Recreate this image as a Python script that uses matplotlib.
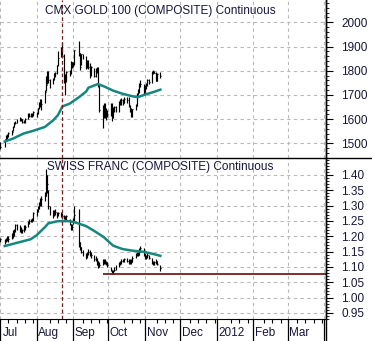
import numpy as np
import pandas as pd
import matplotlib
matplotlib.use("Agg")
import matplotlib.pyplot as plt
import matplotlib.dates as mdates
import matplotlib.transforms as mtransforms
from matplotlib.lines import Line2D

# ---------------- data ----------------
trade_dates = [d for d in pd.bdate_range("2011-07-01", "2011-11-14")
               if d not in (pd.Timestamp("2011-07-04"), pd.Timestamp("2011-09-05"))]

gold_close = [1486, 1513, 1530, 1530, 1543, 1549, 1567, 1586, 1586, 1594, 1603, 1600, 1588, 1588, 1602, 1619, 1615, 1616, 1616, 1628,
              1624, 1645, 1667, 1658, 1663, 1713, 1743, 1795, 1763, 1747, 1766, 1789, 1792, 1822, 1852, 1892, 1862, 1757, 1771, 1794, 1791, 1836, 1827,
              1829, 1884, 1873, 1817, 1868, 1856, 1815, 1840, 1817, 1785, 1814, 1779, 1806, 1808, 1741, 1639, 1628, 1652, 1616, 1617, 1620,
              1659, 1624, 1642, 1651, 1635, 1670, 1663, 1680, 1667, 1682, 1678, 1653, 1641, 1618, 1642, 1656, 1703, 1721, 1745, 1747, 1714,
              1731, 1746, 1763, 1755, 1795, 1795, 1792, 1758, 1788, 1779]
gold_high = [1505, 1518, 1533, 1538, 1546, 1555, 1570, 1590, 1594, 1600, 1610, 1606, 1603, 1598, 1605, 1625, 1624, 1626, 1627, 1633,
             1630, 1648, 1673, 1682, 1684, 1720, 1780, 1800, 1800, 1767, 1770, 1792, 1796, 1825, 1880, 1898, 1917, 1870, 1785, 1800, 1804, 1839, 1837,
             1836, 1885, 1923, 1875, 1870, 1871, 1859, 1845, 1845, 1834, 1818, 1813, 1810, 1817, 1814, 1745, 1660, 1669, 1669, 1648, 1640,
             1666, 1668, 1650, 1654, 1654, 1675, 1684, 1688, 1685, 1690, 1692, 1690, 1658, 1647, 1644, 1662, 1708, 1724, 1750, 1760, 1746,
             1740, 1750, 1765, 1768, 1798, 1803, 1799, 1795, 1790, 1795]
gold_low = [1478, 1485, 1511, 1519, 1528, 1536, 1550, 1566, 1582, 1584, 1592, 1594, 1585, 1583, 1585, 1601, 1609, 1608, 1609, 1614,
            1610, 1620, 1644, 1650, 1640, 1665, 1715, 1745, 1750, 1730, 1744, 1760, 1775, 1785, 1820, 1855, 1858, 1750, 1702, 1755, 1780, 1788, 1813,
            1815, 1822, 1860, 1805, 1822, 1848, 1808, 1813, 1807, 1770, 1780, 1774, 1775, 1790, 1734, 1630, 1562, 1605, 1605, 1595, 1608,
            1615, 1593, 1605, 1630, 1629, 1630, 1660, 1660, 1659, 1667, 1668, 1650, 1630, 1608, 1610, 1640, 1656, 1700, 1710, 1735, 1705,
            1705, 1723, 1737, 1745, 1750, 1787, 1790, 1756, 1759, 1770]

chf_close = [1.19, 1.185, 1.19, 1.19, 1.19, 1.20, 1.205, 1.22, 1.235, 1.23, 1.225, 1.22, 1.22, 1.225, 1.23, 1.245, 1.25, 1.25, 1.252, 1.275,
             1.28, 1.295, 1.305, 1.31, 1.32, 1.33, 1.40, 1.37, 1.30, 1.28, 1.27, 1.275, 1.28, 1.27, 1.275, 1.27, 1.265, 1.265, 1.255, 1.265, 1.24, 1.225, 1.23,
             1.25, 1.27, 1.18, 1.165, 1.15, 1.14, 1.135, 1.145, 1.15, 1.145, 1.14, 1.125, 1.13, 1.12, 1.10, 1.105, 1.12, 1.12, 1.115, 1.115, 1.105,
             1.09, 1.08, 1.085, 1.09, 1.10, 1.11, 1.115, 1.12, 1.12, 1.125, 1.12, 1.115, 1.12, 1.115, 1.13, 1.14, 1.145, 1.14, 1.155, 1.16, 1.14,
             1.13, 1.135, 1.14, 1.13, 1.115, 1.11, 1.115, 1.12, 1.11, 1.095]
chf_high = [1.195, 1.19, 1.195, 1.20, 1.20, 1.21, 1.22, 1.225, 1.24, 1.24, 1.235, 1.23, 1.225, 1.235, 1.235, 1.25, 1.255, 1.255, 1.26, 1.28,
            1.29, 1.30, 1.31, 1.325, 1.33, 1.345, 1.42, 1.40, 1.35, 1.30, 1.285, 1.285, 1.29, 1.28, 1.28, 1.28, 1.275, 1.27, 1.265, 1.27, 1.255, 1.24, 1.24,
            1.26, 1.30, 1.29, 1.18, 1.165, 1.155, 1.145, 1.15, 1.158, 1.155, 1.15, 1.14, 1.135, 1.13, 1.12, 1.115, 1.125, 1.125, 1.125, 1.12, 1.115,
            1.10, 1.09, 1.09, 1.10, 1.105, 1.115, 1.12, 1.125, 1.125, 1.13, 1.13, 1.125, 1.125, 1.125, 1.135, 1.145, 1.15, 1.15, 1.16, 1.167, 1.16,
            1.145, 1.14, 1.145, 1.14, 1.13, 1.12, 1.12, 1.125, 1.12, 1.105]
chf_low = [1.18, 1.175, 1.18, 1.185, 1.18, 1.19, 1.195, 1.20, 1.215, 1.22, 1.215, 1.21, 1.21, 1.215, 1.22, 1.23, 1.24, 1.245, 1.245, 1.25,
           1.265, 1.28, 1.29, 1.30, 1.30, 1.315, 1.33, 1.34, 1.29, 1.27, 1.26, 1.265, 1.27, 1.26, 1.265, 1.262, 1.258, 1.255, 1.25, 1.25, 1.235, 1.22, 1.22,
           1.24, 1.25, 1.165, 1.155, 1.145, 1.135, 1.125, 1.13, 1.14, 1.135, 1.13, 1.12, 1.12, 1.105, 1.095, 1.10, 1.105, 1.11, 1.11, 1.105, 1.10,
           1.085, 1.077, 1.077, 1.085, 1.09, 1.10, 1.105, 1.11, 1.115, 1.115, 1.115, 1.11, 1.11, 1.11, 1.115, 1.13, 1.135, 1.135, 1.14, 1.15, 1.135,
           1.125, 1.125, 1.13, 1.125, 1.11, 1.105, 1.105, 1.11, 1.105, 1.088]

gold_ma_dates = ["2011-07-05", "2011-07-12", "2011-07-21", "2011-07-29", "2011-08-08", "2011-08-15", "2011-08-19",
                 "2011-08-23", "2011-08-29", "2011-09-06", "2011-09-12", "2011-09-14", "2011-09-22", "2011-09-27",
                 "2011-10-05", "2011-10-13", "2011-10-21", "2011-10-26", "2011-10-31", "2011-11-08", "2011-11-14"]
gold_ma = [1508, 1520, 1541, 1552, 1568, 1595, 1616, 1653, 1664, 1691, 1714, 1730, 1745, 1736,
           1718, 1705, 1695, 1691, 1700, 1712, 1722]

chf_ma_dates = ["2011-07-05", "2011-07-27", "2011-08-01", "2011-08-08", "2011-08-11", "2011-08-19", "2011-08-29",
                "2011-09-02", "2011-09-12", "2011-09-19", "2011-09-27", "2011-10-05", "2011-10-13", "2011-10-21",
                "2011-10-31", "2011-11-08", "2011-11-14"]
chf_ma = [1.168, 1.19, 1.203, 1.229, 1.242, 1.249, 1.249, 1.246, 1.233, 1.217, 1.197, 1.169, 1.158, 1.153,
          1.149, 1.142, 1.136]

month_starts = ["2011-07-01", "2011-08-01", "2011-09-01", "2011-10-01", "2011-11-01", "2011-12-01",
                "2012-01-01", "2012-02-01", "2012-03-01", "2012-04-01"]
month_labels = ["Jul", "Aug", "Sep", "Oct", "Nov", "Dec", "2012", "Feb", "Mar"]

gold_yticks = [1500, 1600, 1700, 1800, 1900, 2000]
chf_yticks = [0.95, 1.00, 1.05, 1.10, 1.15, 1.20, 1.25, 1.30, 1.35, 1.40]

peak_date = "2011-08-23"
support_start = "2011-09-26"
support_level = 1.077

# ---------------- styling ----------------
W, H = 372, 341
TXT = "#16163a"
TEAL = "#15877f"
RED = "#7a1c1c"
GRID = "#b8b8b8"
FS = 8.5
plt.rcParams["font.family"] = ["Liberation Sans", "DejaVu Sans"]

fig = plt.figure(figsize=(W / 100, H / 100), dpi=100)
fig.patch.set_facecolor("white")
ax_right = 326 / W
ax1 = fig.add_axes([0, (H - 158) / H, ax_right, 158 / H])
ax2 = fig.add_axes([0, (H - 319) / H, ax_right, 161 / H])

x = mdates.date2num(pd.to_datetime(trade_dates))
xmin = mdates.date2num(pd.Timestamp("2011-07-04 08:00"))
xmax = mdates.date2num(pd.Timestamp("2012-04-02 12:00"))
mstarts = mdates.date2num(pd.to_datetime(month_starts))
fridays = [mdates.date2num(d) for d in pd.date_range("2011-07-01", "2012-04-01", freq="W-FRI") if d.day >= 8]


def style(ax, ylim, yticks, minor_step, fmt):
    ax.set_xlim(xmin, xmax)
    ax.set_ylim(*ylim)
    for s in ("left", "top", "bottom"):
        ax.spines[s].set_visible(False)
    ax.spines["right"].set_linewidth(1.0)
    ax.yaxis.tick_right()
    ax.set_yticks(yticks)
    ax.set_yticklabels([fmt.format(v) for v in yticks])
    ax.set_yticks(np.arange(ylim[0] - ylim[0] % minor_step, ylim[1], minor_step), minor=True)
    ax.tick_params(axis="y", which="major", length=5, width=0.8, pad=6, labelsize=FS, labelcolor=TXT, direction="out")
    ax.tick_params(axis="y", which="minor", length=2.5, width=0.6, direction="out")
    ax.set_xticks(mstarts)
    ax.grid(True, which="major", color=GRID, linestyle=(0, (3, 3)), linewidth=0.8)
    ax.set_axisbelow(True)


style(ax1, (1447, 2092), gold_yticks, 20, "{:.0f}")
style(ax2, (0.934, 1.455), chf_yticks, 0.01, "{:.2f}")
ax1.tick_params(axis="x", length=0, labelbottom=False)
ax2.spines["bottom"].set_visible(True)
ax2.set_xticklabels([])
ax2.set_xticks(fridays, minor=True)
ax2.tick_params(axis="x", which="major", length=16, width=0.9, direction="out")
ax2.tick_params(axis="x", which="minor", length=3, width=0.8, direction="out")


def draw_bars(ax, hi, lo, cl):
    ax.vlines(x, lo, hi, color="black", linewidth=0.85)
    ax.hlines(cl, x, x + 0.8, color="black", linewidth=0.85)


draw_bars(ax1, gold_high, gold_low, gold_close)
draw_bars(ax2, chf_high, chf_low, chf_close)
ax1.plot(mdates.date2num(pd.to_datetime(gold_ma_dates)), gold_ma, color=TEAL, linewidth=1.8)
ax2.plot(mdates.date2num(pd.to_datetime(chf_ma_dates)), chf_ma, color=TEAL, linewidth=1.8)

pk = mdates.date2num(pd.Timestamp(peak_date))
for ax in (ax1, ax2):
    ax.axvline(pk, color=RED, linewidth=0.9, linestyle=(0, (3, 2)))
ax2.hlines(support_level, mdates.date2num(pd.Timestamp(support_start)), xmax, color=RED, linewidth=1.3)

# titles
fig.text(45 / W, 1 - 11 / H, "CMX GOLD 100 (COMPOSITE) Continuous", fontsize=FS, color=TXT, va="center", ha="left")
fig.text(47 / W, 1 - 167 / H, "SWISS FRANC (COMPOSITE) Continuous", fontsize=FS, color=TXT, va="center", ha="left")

# month labels
off = mtransforms.ScaledTranslation(1.5 / 100, 0, fig.dpi_scale_trans)
blend = mtransforms.blended_transform_factory(ax2.transData, fig.transFigure)
for ms, lab in zip(mstarts[:-1], month_labels):
    fig.text(max(ms, xmin - 2.5), 1 - 333 / H, lab, fontsize=FS, color=TXT, va="center", ha="left",
             transform=blend + off)

# separator and spine extension
fig.add_artist(Line2D([0, 1], [1 - 158 / H, 1 - 158 / H], color="black", linewidth=1.0, transform=fig.transFigure))
fig.add_artist(Line2D([ax_right, ax_right], [0, 1], color="black", linewidth=1.0, transform=fig.transFigure))

fig.savefig("out.png", dpi=100)
